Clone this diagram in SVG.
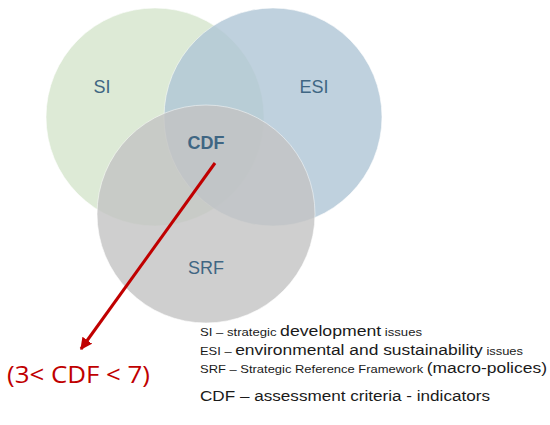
<svg xmlns="http://www.w3.org/2000/svg" width="550" height="425" viewBox="0 0 550 425">
<style>
.c{stroke:#ffffff;stroke-opacity:.6;stroke-width:1;opacity:.8}
.lbl{font-family:"Liberation Sans",Arial,sans-serif;font-size:18px;fill:#3f6683;text-anchor:middle}
.leg{font-family:"Liberation Sans",Arial,sans-serif;fill:#1a1a1a}
.s{font-size:11.5px}
.b{font-size:15.5px}
</style>
<defs>
<marker id="ah" viewBox="0 0 10 10" refX="9" refY="5" markerWidth="4" markerHeight="4" orient="auto" markerUnits="strokeWidth">
<path d="M0,0 L10,5 L0,10 z" fill="#c00000"/>
</marker>
</defs>
<rect width="550" height="425" fill="#ffffff"/>
<g id="SI"><circle class="c" cx="155" cy="117" r="109" fill="#d5e6cc"/></g>
<g id="ESI"><circle class="c" cx="273" cy="117" r="109" fill="#b0c6d6"/></g>
<g id="SRF"><circle class="c" cx="206" cy="214" r="109" fill="#c4c4c4"/></g>
<g id="labels">
<text class="lbl" x="102" y="93">SI</text>
<text class="lbl" x="314" y="93">ESI</text>
<text class="lbl" x="206" y="149" font-weight="bold">CDF</text>
<text class="lbl" x="206" y="274">SRF</text>
</g>
<g id="connectors">
<line x1="215" y1="163" x2="81" y2="349" stroke="#c00000" stroke-width="3" marker-end="url(#ah)"/>
</g>
<g id="range">
<text x="7" y="383" font-family="'Open Sans','Liberation Sans',sans-serif" font-size="23" fill="#c00000" textLength="143" lengthAdjust="spacingAndGlyphs">(3&lt; CDF &lt; 7)</text>
</g>
<g id="legend" class="leg">
<text x="200" y="336" textLength="222" lengthAdjust="spacingAndGlyphs"><tspan class="s">SI – strategic </tspan><tspan class="b">development</tspan><tspan class="s"> issues</tspan></text>
<text x="200" y="355" textLength="323" lengthAdjust="spacingAndGlyphs"><tspan class="s">ESI – </tspan><tspan class="b">environmental and sustainability</tspan><tspan class="s"> issues</tspan></text>
<text x="200" y="373" textLength="347" lengthAdjust="spacingAndGlyphs"><tspan class="s">SRF – Strategic Reference Framework </tspan><tspan class="b">(macro-polices)</tspan></text>
<text x="200" y="401" font-size="15.5" textLength="290" lengthAdjust="spacingAndGlyphs">CDF – assessment criteria - indicators</text>
</g>
</svg>
